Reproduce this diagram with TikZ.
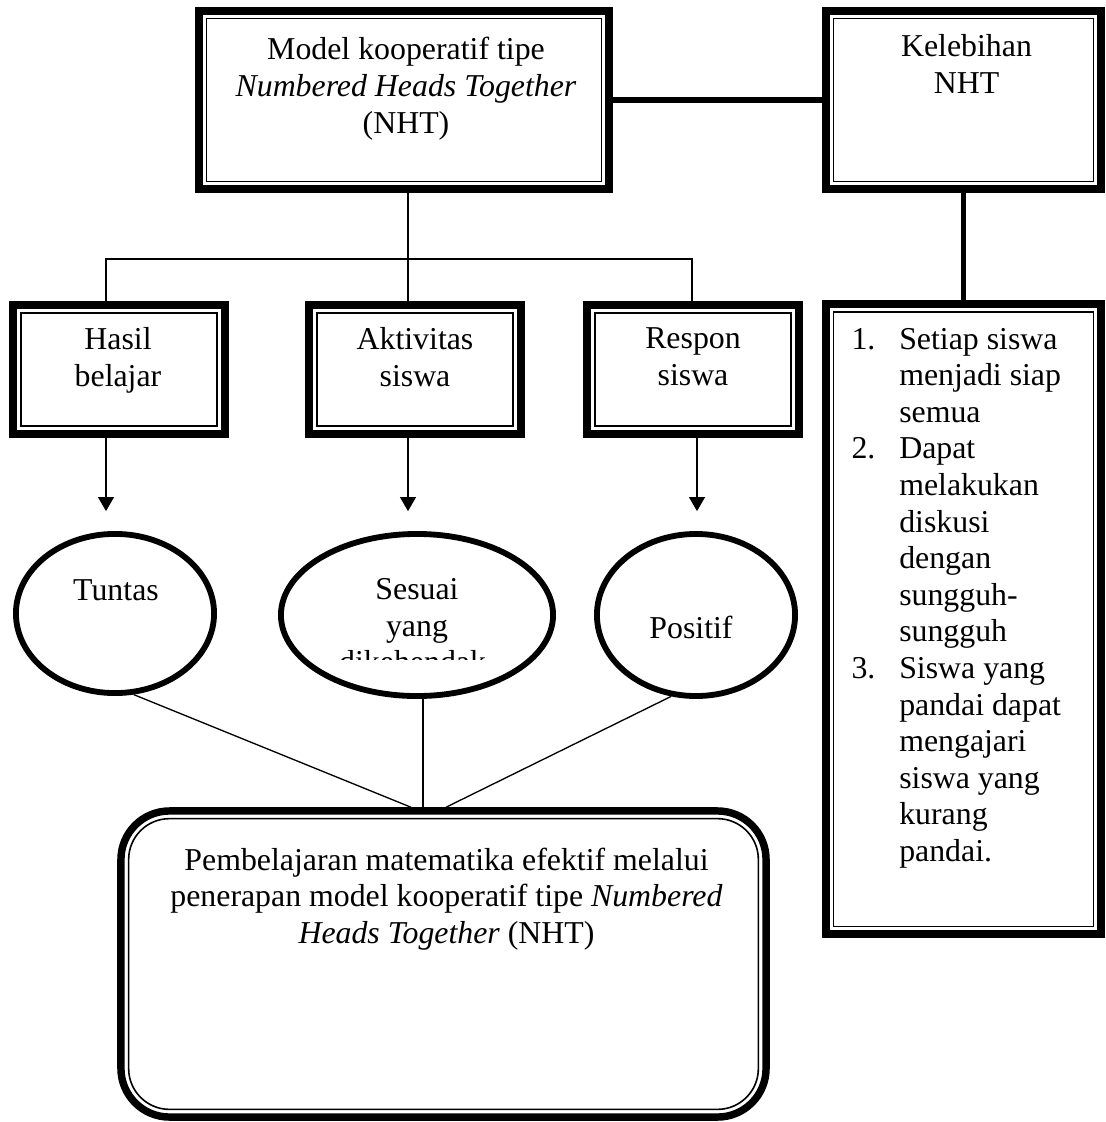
\documentclass[tikz,border=0pt]{standalone}
\usepackage{fontspec}
\setmainfont{Liberation Serif}
\usetikzlibrary{arrows.meta,shapes.geometric,positioning}
\definecolor{ink}{HTML}{000000}
\tikzset{
  % ---- thick-thin frames -----------------------------------------
  tbox/.style   = {rectangle, draw=ink, line width=3pt, fill=white,
                   inner sep=0pt,
                   path picture={\draw[ink, line width=.6pt, sharp corners]
                     ([shift={(2.9pt,-2.9pt)}]path picture bounding box.north west)
                     rectangle
                     ([shift={(-2.9pt,2.9pt)}]path picture bounding box.south east);}},
  rbox/.style   = {rectangle, rounded corners=18.3pt, draw=ink, line width=2.8pt,
                   fill=white, inner sep=0pt,
                   path picture={\draw[ink, line width=.6pt, rounded corners=15.4pt]
                     ([shift={(2.9pt,-2.9pt)}]path picture bounding box.north west)
                     rectangle
                     ([shift={(-2.9pt,2.9pt)}]path picture bounding box.south east);}},
  oval/.style   = {ellipse, draw=ink, line width=2.2pt, fill=white, inner sep=0pt},
  % ---- texts ------------------------------------------------------
  txt/.style    = {font=\fontsize{12}{13.8}\selectfont, text=ink, inner sep=0pt},
  % ---- connectors -------------------------------------------------
  link/.style   = {draw=ink, line width=.5pt},
  bold/.style   = {draw=ink, line width=2.1pt},
  arr/.style    = {link, -{Triangle[length=5.3pt, width=6pt]}, shorten >=7.5pt},
}
\begin{document}
\begin{tikzpicture}[x=0.377pt, y=-0.377pt]
  \useasboundingbox (0,0) rectangle (1105,1122);
  % boxes
  \node[tbox, minimum width=154.6pt, minimum height=67.1pt] (nht) at (404,100) {};
  \node[tbox, minimum width=103.7pt, minimum height=67.1pt] (kel) at (963.5,100) {};
  \node[tbox, minimum width=103.7pt, minimum height=237.5pt] (lst) at (963.5,619) {};
  \node[tbox, minimum width=79.9pt, minimum height=48.6pt] (hasil) at (119,369.5) {};
  \node[tbox, minimum width=79.9pt, minimum height=48.6pt] (aktiv) at (415,369.5) {};
  \node[tbox, minimum width=79.9pt, minimum height=48.6pt] (respon) at (693,369.5) {};
  \node[oval, minimum width=74.7pt, minimum height=60pt] (tuntas) at (115,613.5) {};
  \node[oval, minimum width=102.6pt, minimum height=61.1pt] (sesuai) at (417,615) {};
  \node[oval, minimum width=74.7pt, minimum height=61.1pt] (positif) at (696,615) {};
  \node[rbox, minimum width=243.2pt, minimum height=115.4pt] (pemb) at (443.5,964) {};
  % texts
  \node[txt, align=center, anchor=north] (nhtT) at ([shift={(2,30)}]nht.north)
    {Model kooperatif tipe\\\textit{Numbered Heads Together}\\(NHT)};
  \node[txt, align=center, anchor=north] (kelT) at ([shift={(3,27)}]kel.north)
    {Kelebihan\\NHT};
  \node[txt, anchor=base west] (lstT) at ([shift={(29,49)}]lst.north west)
    {\begin{tabular}[t]{@{}p{18pt}@{}l@{}}
      1. & Setiap siswa\\
         & menjadi siap\\
         & semua\\
      2. & Dapat\\
         & melakukan\\
         & diskusi\\
         & dengan\\
         & sungguh-\\
         & sungguh\\
      3. & Siswa yang\\
         & pandai dapat\\
         & mengajari\\
         & siswa yang\\
         & kurang\\
         & pandai.
    \end{tabular}};
  \node[txt, align=center, anchor=north] (hasilT) at ([shift={(-1,26)}]hasil.north) {Hasil\\belajar};
  \node[txt, align=center, anchor=north] (aktivT) at ([shift={(0,26)}]aktiv.north) {Aktivitas\\siswa};
  \node[txt, align=center, anchor=north] (responT) at ([shift={(0,26)}]respon.north) {Respon\\siswa};
  \node[txt, anchor=base] (tuntasT) at ([shift={(1,-13.5)}]tuntas.center) {Tuntas};
  \begin{scope}
    \clip (330,560) rectangle (486,659);
    \node[txt, align=center, anchor=north] (sesuaiT) at ([shift={(0,-37)}]sesuai.center)
      {Sesuai\\yang\\dikehendaki};
  \end{scope}
  \node[txt, anchor=base] (positifT) at ([shift={(-5,23)}]positif.center) {Positif};
  \node[txt, align=center, anchor=north] (pembT) at ([shift={(3,40)}]pemb.north)
    {Pembelajaran matematika efektif melalui\\penerapan model kooperatif tipe \textit{Numbered}\\\textit{Heads Together} (NHT)};
  % connectors
  \draw[bold] (nht.east) -- (kel.west);
  \draw[bold] (kel.south) -- (lst.north);
  \coordinate (fork) at (408,259);
  \draw[link] ([shift={(4,0)}]nht.south) -- ([shift={(-7,0)}]aktiv.north);
  \draw[link] ([shift={(-13,0)}]hasil.north) |- (fork) -| ([shift={(-1,0)}]respon.north);
  \draw[arr] ([shift={(-13,0)}]hasil.south) -- ([shift={(-13,0)}]hasil.south |- tuntas.north);
  \draw[arr] ([shift={(-7,0)}]aktiv.south) -- ([shift={(-7,0)}]aktiv.south |- sesuai.north);
  \draw[arr] ([shift={(4,0)}]respon.south) -- ([shift={(4,0)}]respon.south |- positif.north);
  \draw[link] (tuntas.-77) -- ([shift={(-32.5,0)}]pemb.north);
  \draw[link] ([shift={(6,0)}]sesuai.south) -- ([shift={(6,0)}]sesuai.south |- pemb.north);
  \draw[link] (positif.-107) -- ([shift={(2.5,0)}]pemb.north);
\end{tikzpicture}
\end{document}
